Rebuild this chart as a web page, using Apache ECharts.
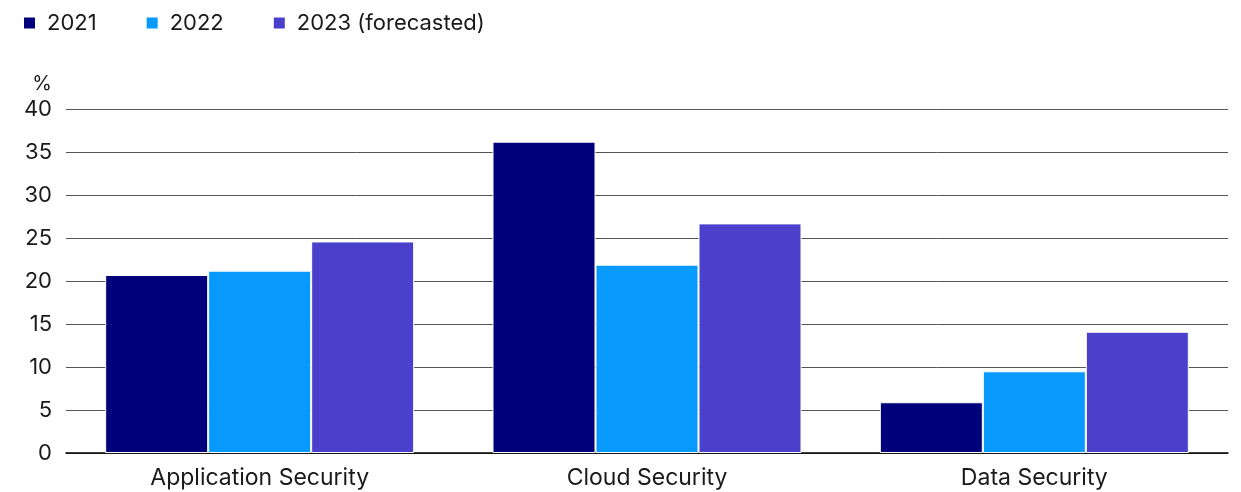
<!DOCTYPE html>
<html>
<head>
<meta charset="utf-8">
<script src="https://cdn.jsdelivr.net/npm/echarts@6/dist/echarts.min.js"></script>
<style>
  html, body { margin: 0; padding: 0; background: #fff; }
  #chart { width: 1241px; height: 492px; }
</style>
</head>
<body>
<div id="chart"></div>
<script>
  // data
  var categories = ['Application Security', 'Cloud Security', 'Data Security'];
  var seriesNames = ['2021', '2022', '2023 (forecasted)'];
  var values2021 = [20.7, 36.2, 5.9];
  var values2022 = [21.2, 21.9, 9.5];
  var values2023 = [24.6, 26.7, 14.1];
  var colors = ['#00007A', '#0799FB', '#4A40CB'];

  var font = 'Inter, "Noto Sans", sans-serif';

  var chart = echarts.init(document.getElementById('chart'));

  function bar(name, data, color) {
    return {
      name: name,
      type: 'bar',
      data: data,
      barWidth: 103,
      barGap: '0%',
      itemStyle: { color: color, borderColor: '#ffffff', borderWidth: 1 }
    };
  }

  chart.setOption({
    animation: false,
    textStyle: { fontFamily: font },
    legend: {
      left: 17,
      top: 7,
      itemWidth: 13,
      itemHeight: 13,
      itemGap: 48,
      icon: 'rect',
      textStyle: { fontSize: 22, color: '#1a1a1a', fontFamily: font, padding: [0, 0, 0, 6] },
      data: seriesNames
    },
    grid: { left: 66, right: 13, top: 109, bottom: 39 },
    xAxis: {
      type: 'category',
      data: categories,
      axisLine: { lineStyle: { color: '#000', width: 1.5 } },
      axisTick: { show: false },
      axisLabel: { fontSize: 23, color: '#1a1a1a', margin: 14, fontFamily: font }
    },
    yAxis: {
      type: 'value',
      min: 0,
      max: 40,
      interval: 5,
      name: '%',
      nameLocation: 'end',
      nameGap: 15,
      nameTextStyle: { fontSize: 20, color: '#1a1a1a', align: 'right', padding: [0, 14, 0, 0], fontFamily: font },
      axisLine: { show: false },
      axisTick: { show: false },
      axisLabel: { fontSize: 22, color: '#1a1a1a', margin: 14, fontFamily: font },
      splitLine: { lineStyle: { color: '#555', width: 1 } }
    },
    series: [
      bar(seriesNames[0], values2021, colors[0]),
      bar(seriesNames[1], values2022, colors[1]),
      bar(seriesNames[2], values2023, colors[2])
    ]
  });
</script>
</body>
</html>
